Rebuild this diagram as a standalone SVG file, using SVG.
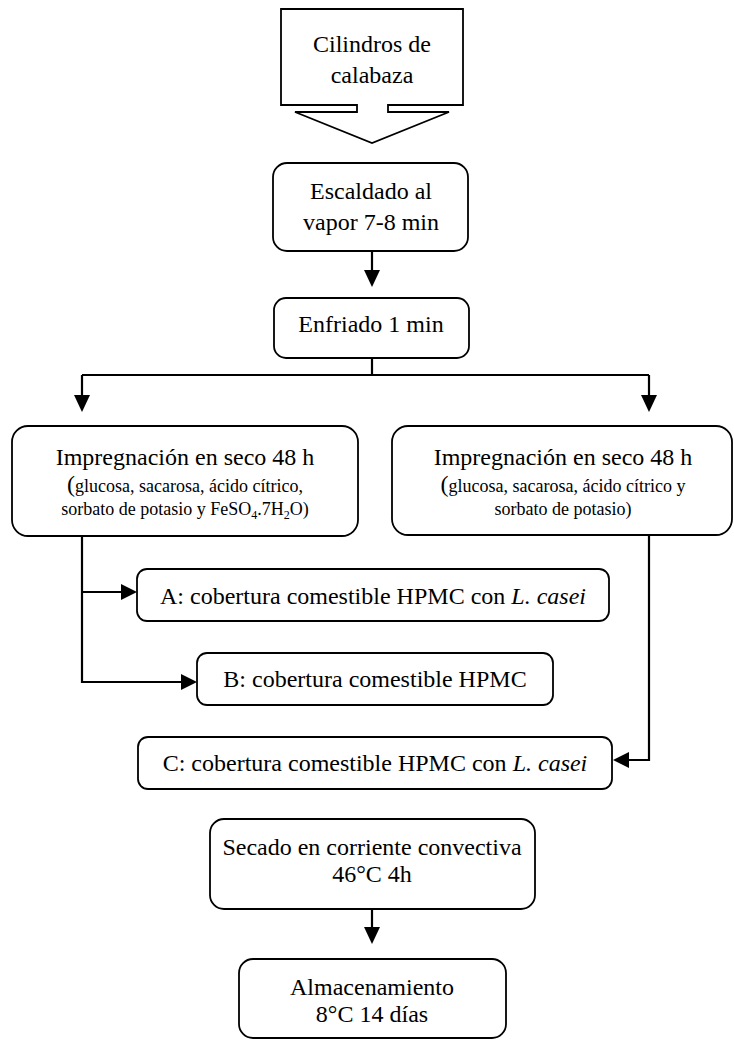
<svg xmlns="http://www.w3.org/2000/svg" width="734" height="1047" viewBox="0 0 734 1047">
<style>
.box{fill:#fff;stroke:#000;stroke-width:1.8}
.t{font-family:"Liberation Serif","Times New Roman",serif;font-size:24px;fill:#000;text-anchor:middle}
.s{font-size:18px}
.c{fill:none;stroke:#000;stroke-width:2.2}
.h{fill:#000;stroke:none}
</style>
<rect width="734" height="1047" fill="#fff"/>
<g id="n-cilindros">
<path class="box" d="M281,9 H463 V105 H388 V112 H449 L372,143 L295,112 H357 V105 H281 Z"/>
<text class="t" x="372" y="52">Cilindros de</text>
<text class="t" x="372" y="83">calabaza</text>
</g>
<g id="n-escaldado">
<rect class="box" x="273" y="163" width="195" height="88" rx="14"/>
<text class="t" x="371" y="199">Escaldado al</text>
<text class="t" x="371" y="230">vapor 7-8 min</text>
</g>
<g id="n-enfriado">
<rect class="box" x="274" y="298" width="195" height="60" rx="12"/>
<text class="t" x="371" y="332">Enfriado 1 min</text>
</g>
<g id="n-imp1">
<rect class="box" x="12" y="426" width="346" height="110" rx="16"/>
<text class="t" x="185" y="465">Impregnación en seco 48 h</text>
<text class="t s" x="185" y="492"><tspan font-size="24">(</tspan>glucosa, sacarosa, ácido cítrico,</text>
<text class="t s" x="185" y="515">sorbato de potasio y  FeSO<tspan font-size="12" dy="4">4</tspan><tspan dy="-4">.7H</tspan><tspan font-size="12" dy="4">2</tspan><tspan dy="-4">O)</tspan></text>
</g>
<g id="n-imp2">
<rect class="box" x="392" y="426" width="340" height="109" rx="16"/>
<text class="t" x="563" y="465">Impregnación en seco 48 h</text>
<text class="t s" x="563" y="492"><tspan font-size="24">(</tspan>glucosa, sacarosa, ácido cítrico y</text>
<text class="t s" x="563" y="515">sorbato de potasio)</text>
</g>
<g id="n-a">
<rect class="box" x="137" y="569" width="472" height="52" rx="10"/>
<text class="t" x="373" y="604">A: cobertura comestible HPMC con <tspan font-style="italic">L. casei</tspan></text>
</g>
<g id="n-b">
<rect class="box" x="197" y="653" width="356" height="52" rx="10"/>
<text class="t" x="375" y="687">B: cobertura comestible HPMC</text>
</g>
<g id="n-c">
<rect class="box" x="138" y="737" width="474" height="52" rx="10"/>
<text class="t" x="375" y="771">C: cobertura comestible HPMC con <tspan font-style="italic">L. casei</tspan></text>
</g>
<g id="n-secado">
<rect class="box" x="210" y="819" width="325" height="90" rx="14"/>
<text class="t" x="372" y="855">Secado en corriente convectiva</text>
<text class="t" x="372" y="882">46°C 4h</text>
</g>
<g id="n-alm">
<rect class="box" x="239" y="959" width="267" height="79" rx="14"/>
<text class="t" x="372" y="995">Almacenamiento</text>
<text class="t" x="372" y="1022">8°C 14 días</text>
</g>
<g id="connectors">
<path class="c" d="M372,251 V272"/>
<polygon class="h" points="364,270 380,270 372,287"/>
<path class="c" d="M372,358 V375 M82,375 H649 M82,375 V397 M649,375 V397"/>
<polygon class="h" points="74,395 90,395 82,412"/>
<polygon class="h" points="641,395 657,395 649,412"/>
<path class="c" d="M82,536 V683 M82,592 H123 M82,682 H183"/>
<polygon class="h" points="121,584 121,600 137,592"/>
<polygon class="h" points="181,674 181,690 197,682"/>
<path class="c" d="M649,535 V760 H627"/>
<polygon class="h" points="629,752 629,768 613,760"/>
<path class="c" d="M372,909 V929"/>
<polygon class="h" points="364,927 380,927 372,944"/>
</g>
</svg>
